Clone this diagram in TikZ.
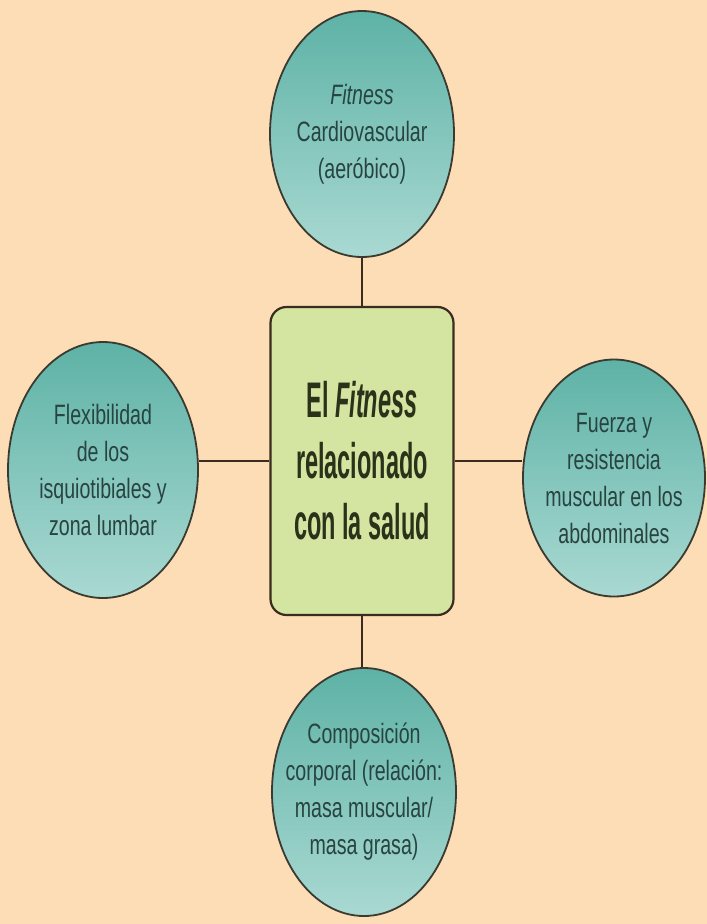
\documentclass[tikz,border=0pt]{standalone}
\usepackage{fontspec}
\setmainfont{Liberation Sans}
\newfontfamily\circfont{Liberation Sans}[FakeStretch=0.70]
\newfontfamily\centfont{Liberation Sans}[FakeStretch=0.47]
\usetikzlibrary{shapes.geometric}
\definecolor{bgpeach}{HTML}{FCDDB6}
\definecolor{tealtop}{HTML}{5EB2A6}
\definecolor{tealbot}{HTML}{A9D9D2}
\definecolor{rimgray}{HTML}{3B3A30}
\definecolor{boxgreen}{HTML}{D3E5A1}
\definecolor{linebrown}{HTML}{3A2C1E}
\definecolor{circtext}{HTML}{284440}
\definecolor{centtext}{HTML}{2A3219}
\begin{document}
\begin{tikzpicture}[x=1pt,y=-1pt,
  topic/.style={ellipse,draw=rimgray,line width=1.8pt,top color=tealtop,bottom color=tealbot,
    inner xsep=-14pt,inner ysep=0pt,align=center,text=circtext,
    font=\circfont\fontsize{28}{37}\selectfont},
  hub/.style={rectangle,rounded corners=16pt,draw=linebrown,line width=2.2pt,fill=boxgreen,
    inner sep=0pt,minimum width=183pt,minimum height=308pt,align=center,text=centtext,
    font=\centfont\bfseries\fontsize{50}{61}\selectfont},
  link/.style={draw=linebrown,line width=2.4pt}]
\fill[bgpeach] (0,0) rectangle (707,924);
\useasboundingbox (0,0) rectangle (707,924);
% centre box
\node[hub] (salud) at (362,461) {El \textit{Fitness}\\relacionado\\con la salud};
% the four components
\node[topic,minimum width=184pt,minimum height=246pt] (cardio) at (362,134)
  {\textit{Fitness}\\Cardiovascular\\(aeróbico)};
\node[topic,minimum width=190pt,minimum height=256pt] (flexi) at (103,470)
  {Flexibilidad\\de los\\isquiotibiales y\\zona lumbar};
\node[topic,minimum width=182pt,minimum height=237pt] (fuerza) at (614,478)
  {Fuerza y\\resistencia\\muscular en los\\abdominales};
\node[topic,minimum width=184pt,minimum height=248pt] (compo) at (364,792)
  {Composición\\corporal (relación:\\masa muscular/\\masa grasa)};
% connectors
\draw[link] (salud.north) -- (salud.north |- cardio.south);
\draw[link] (salud.south) -- (salud.south |- compo.north);
\draw[link] (salud.west) -- (salud.west -| flexi.east);
\draw[link] (salud.east) -- (salud.east -| fuerza.west);
\end{tikzpicture}
\end{document}
